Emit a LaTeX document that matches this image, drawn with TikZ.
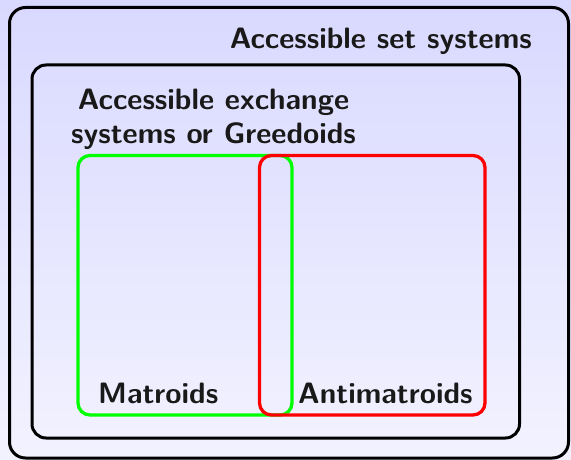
\documentclass[tikz,border=0pt]{standalone}
\usepackage{tikz}
\begin{document}
\begin{tikzpicture}[x=1pt,y=-1pt,
  box/.style={draw,line width=3pt,rounded corners=#1},
  lbl/.style={inner sep=0pt,font=\fontsize{29.5}{33}\selectfont\sffamily\bfseries,text=black!90},
]
\useasboundingbox (0,0) rectangle (571,460);
\shade[top color=blue!15,bottom color=blue!5] (0,0) rectangle (571,460);
\draw[box=16pt,black] (9.5,7.5) rectangle (568.5,458);
\draw[box=14pt,black] (32,65) rectangle (519.5,438);
\draw[box=12pt,green,line width=3.3pt] (78,155.5) rectangle (292,415);
\draw[box=12pt,red,line width=3.3pt] (259.5,155.5) rectangle (485,415);
\node[lbl,anchor=base east] (ass) at (532,49) {Accessible set systems};
\node[lbl,anchor=base,align=center] (aes) at (213.5,143) {Accessible exchange\\[1pt]systems or Greedoids};
\node[lbl,anchor=base west] (mat) at (98,403) {Matroids};
\node[lbl,anchor=base west] (anti) at (298,403) {Antimatroids};
\end{tikzpicture}
\end{document}
